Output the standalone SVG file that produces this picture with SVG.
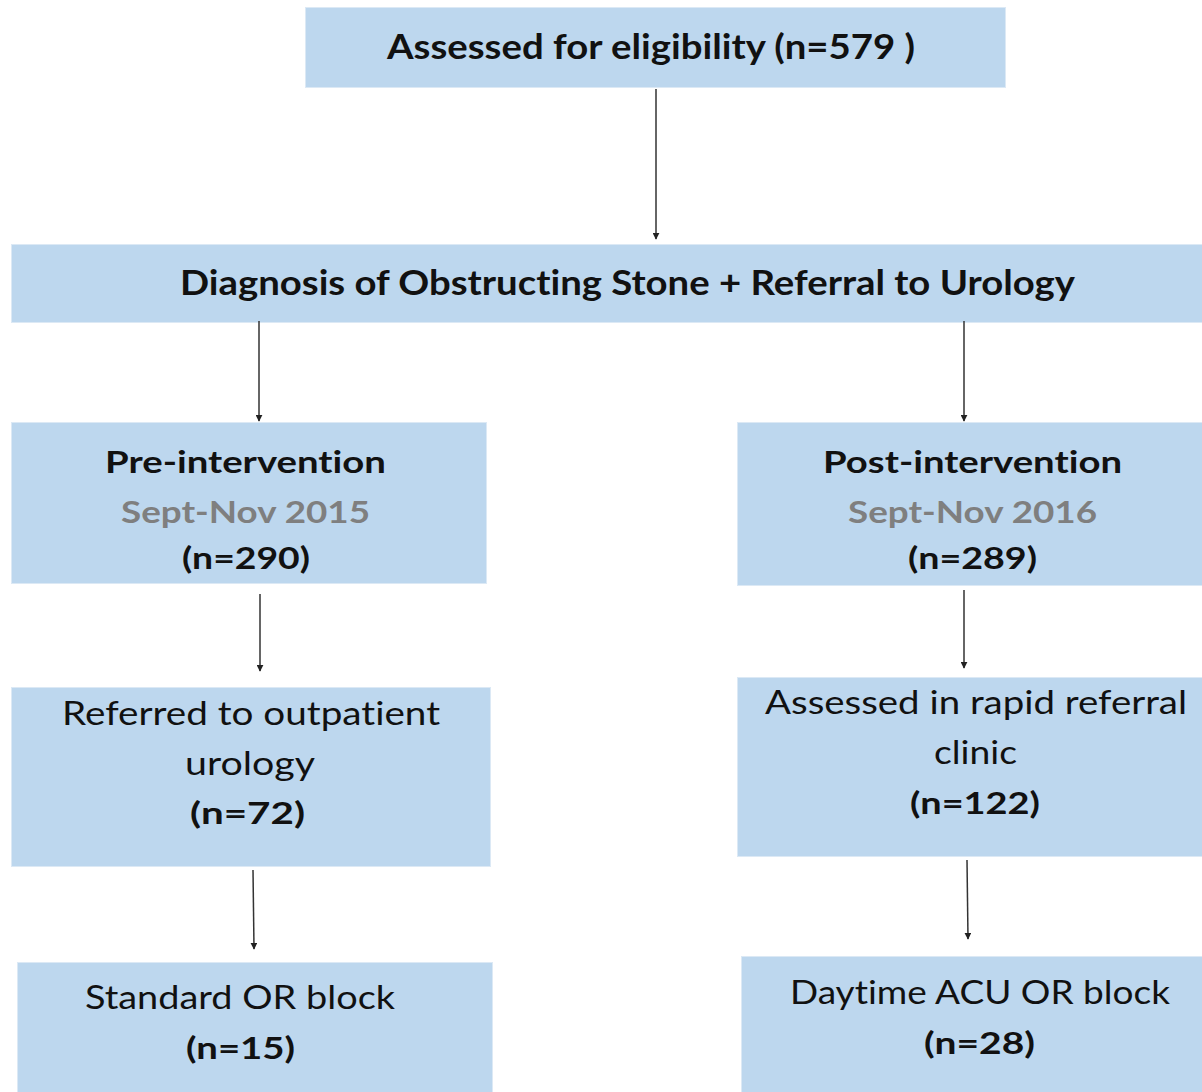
<svg xmlns="http://www.w3.org/2000/svg" width="1202" height="1092" viewBox="0 0 1202 1092">
<style>
.box{fill:#BDD7EE;stroke:#DCE9F5;stroke-width:1}
text{font-family:Lato,"Open Sans","Liberation Sans",sans-serif;text-anchor:middle;fill:#111;font-variant-ligatures:none;font-feature-settings:"liga" 0,"clig" 0,"calt" 0,"dlig" 0}
.b{font-weight:bold}
.big{font-size:35px}
.h{font-size:31px}
.r{font-size:32px}
.g{fill:#7F7F7F}
.conn line{stroke:#333;stroke-width:1.5}
</style>
<defs>
<marker id="ah" viewBox="0 0 10 10" refX="9" refY="5" markerWidth="7" markerHeight="7" markerUnits="userSpaceOnUse" orient="auto">
<path d="M0,0 L10,5 L0,10 z" fill="#222"/>
</marker>
</defs>
<g id="n-assessed">
<rect class="box" x="305.5" y="7.5" width="700" height="80"/>
<text class="b big" x="651" y="59" textLength="528" lengthAdjust="spacingAndGlyphs">Assessed for eligibility (n=579 )</text>
</g>
<g id="n-diagnosis">
<rect class="box" x="11.5" y="244.5" width="1191" height="78"/>
<text class="b big" x="627.5" y="295" textLength="895" lengthAdjust="spacingAndGlyphs">Diagnosis of Obstructing Stone + Referral to Urology</text>
</g>
<g id="n-pre">
<rect class="box" x="11.5" y="422.5" width="475" height="161"/>
<text class="b h" x="245.5" y="473" textLength="281" lengthAdjust="spacingAndGlyphs">Pre-intervention</text>
<text class="b h g" x="245.5" y="523" textLength="249" lengthAdjust="spacingAndGlyphs">Sept-Nov 2015</text>
<text class="b h" x="246" y="569" textLength="128" lengthAdjust="spacingAndGlyphs">(n=290)</text>
</g>
<g id="n-post">
<rect class="box" x="737.5" y="422.5" width="465" height="163"/>
<text class="b h" x="972.5" y="473" textLength="299" lengthAdjust="spacingAndGlyphs">Post-intervention</text>
<text class="b h g" x="972.5" y="523" textLength="249" lengthAdjust="spacingAndGlyphs">Sept-Nov 2016</text>
<text class="b h" x="972.5" y="569" textLength="129" lengthAdjust="spacingAndGlyphs">(n=289)</text>
</g>
<g id="n-referred">
<rect class="box" x="11.5" y="687.5" width="479" height="179"/>
<text class="r" x="251" y="725" textLength="378" lengthAdjust="spacingAndGlyphs">Referred to outpatient</text>
<text class="r" x="250" y="775" textLength="130" lengthAdjust="spacingAndGlyphs">urology</text>
<text class="b h" x="247.5" y="824" textLength="115" lengthAdjust="spacingAndGlyphs">(n=72)</text>
</g>
<g id="n-rapid">
<rect class="box" x="737.5" y="677.5" width="465" height="179"/>
<text class="r" x="976" y="714" textLength="422" lengthAdjust="spacingAndGlyphs">Assessed in rapid referral</text>
<text class="r" x="975.5" y="764" textLength="83" lengthAdjust="spacingAndGlyphs">clinic</text>
<text class="b h" x="975" y="814" textLength="130" lengthAdjust="spacingAndGlyphs">(n=122)</text>
</g>
<g id="n-standard">
<rect class="box" x="17.5" y="962.5" width="475" height="130"/>
<text class="r" x="240" y="1009" textLength="310" lengthAdjust="spacingAndGlyphs">Standard OR block</text>
<text class="b h" x="240.5" y="1059" textLength="109" lengthAdjust="spacingAndGlyphs">(n=15)</text>
</g>
<g id="n-daytime">
<rect class="box" x="741.5" y="956.5" width="461" height="136"/>
<text class="r" x="980" y="1004" textLength="380" lengthAdjust="spacingAndGlyphs">Daytime ACU OR block</text>
<text class="b h" x="979.5" y="1054" textLength="111" lengthAdjust="spacingAndGlyphs">(n=28)</text>
</g>
<g id="connectors" class="conn">
<line x1="656" y1="89" x2="656" y2="239" marker-end="url(#ah)"/>
<line x1="259" y1="321" x2="259" y2="421" marker-end="url(#ah)"/>
<line x1="964" y1="321" x2="964" y2="421" marker-end="url(#ah)"/>
<line x1="260" y1="594" x2="260" y2="671" marker-end="url(#ah)"/>
<line x1="964" y1="590" x2="964" y2="668" marker-end="url(#ah)"/>
<line x1="253" y1="870" x2="254" y2="949" marker-end="url(#ah)"/>
<line x1="967" y1="860" x2="968" y2="939" marker-end="url(#ah)"/>
</g>
</svg>
